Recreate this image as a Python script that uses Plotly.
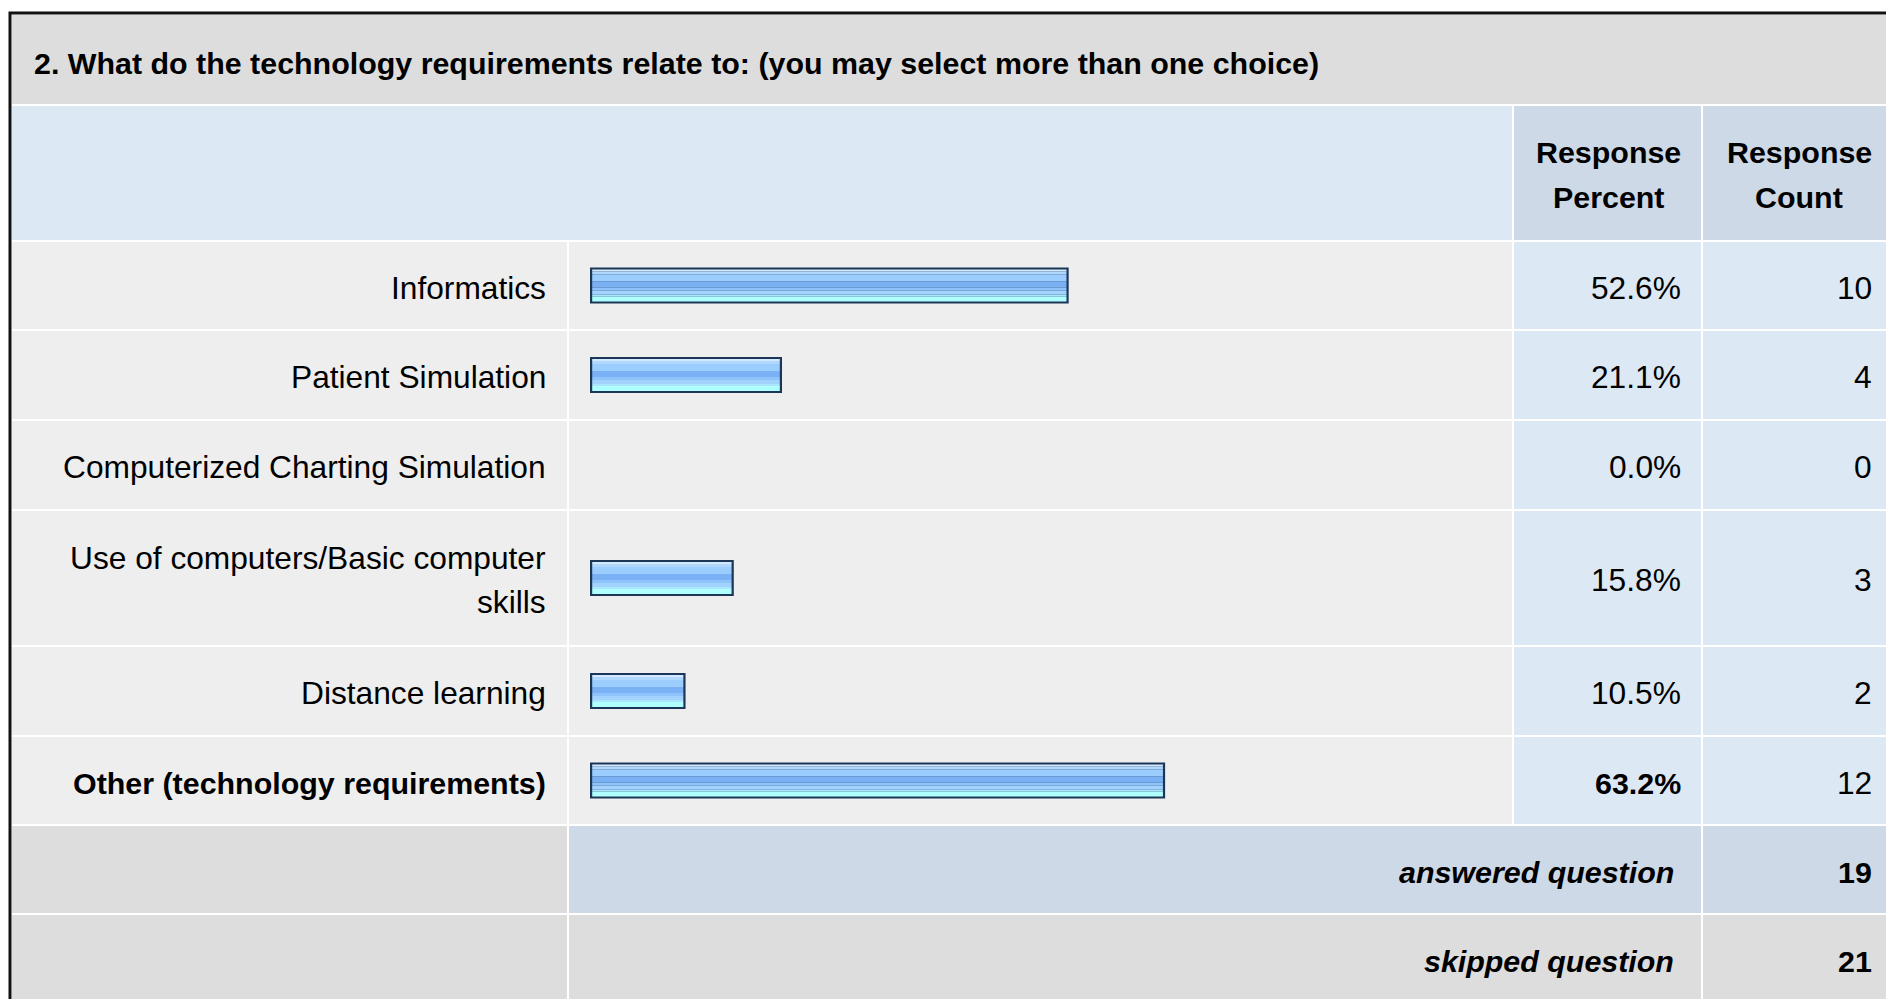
import plotly.graph_objects as go

# ---------------- data ----------------
title_text = "2. What do the technology requirements relate to: (you may select more than one choice)"
categories = [
    "Informatics",
    "Patient Simulation",
    "Computerized Charting Simulation",
    "Use of computers/Basic computer<br>skills",
    "Distance learning",
    "Other (technology requirements)",
]
percents = [52.6, 21.1, 0.0, 15.8, 10.5, 63.2]
counts = [10, 4, 0, 3, 2, 12]
bold_rows = [False, False, False, False, False, True]
header_percent = "Response<br>Percent"
header_count = "Response<br>Count"
answered_label = "answered question"
answered_count = 19
skipped_label = "skipped question"
skipped_count = 21

# ---------------- layout constants (pixels) ----------------
W, H = 1886, 999
FONT = "Arial, 'Liberation Sans', sans-serif"
REG, BLD = 31.7, 30.4
COL_LABEL = (12, 567)
COL_BAR = (569, 1512)
COL_PCT = (1514, 1701)
COL_CNT = (1703, 1900)
TITLE_Y = (15, 104)
HEADER_Y = (106, 240)
ROW_START = 242
ROW_HEIGHTS = [87, 88, 88, 134, 88, 87, 87, 88]  # 6 data rows + answered + skipped
GAP = 2
BAR_PX0, BAR_PX1 = 590, 1500  # 0% .. 100%
BAR_H = 36
LINE_SP = 44.5

C_TITLE = "#dddddd"
C_HEAD = "#dde8f5"
C_HEAD_DARK = "#cdd9e6"
C_ROW = "#eeeeee"
C_ROW_BLUE = "#dde8f5"
C_FOOT = "#dddddd"


def px(xp):
    return xp / W


# row bounds
bounds = []
y = ROW_START
for h in ROW_HEIGHTS:
    bounds.append((y, y + h))
    y += h + GAP
centers = [(a + b) / 2 for a, b in bounds]
data_centers = centers[:len(categories)]

shapes = []


def rect(x0, x1, y0, y1, color):
    shapes.append(dict(type="rect", xref="paper", yref="y", x0=px(x0), x1=px(x1), y0=y0, y1=y1,
                       fillcolor=color, line=dict(width=0), layer="below"))


# title + header
rect(COL_LABEL[0], COL_CNT[1], TITLE_Y[0], TITLE_Y[1], C_TITLE)
rect(COL_LABEL[0], COL_BAR[1], HEADER_Y[0], HEADER_Y[1], C_HEAD)
rect(COL_PCT[0], COL_PCT[1], HEADER_Y[0], HEADER_Y[1], C_HEAD_DARK)
rect(COL_CNT[0], COL_CNT[1], HEADER_Y[0], HEADER_Y[1], C_HEAD_DARK)
# data rows
for (a, b) in bounds[:len(categories)]:
    rect(COL_LABEL[0], COL_LABEL[1], a, b, C_ROW)
    rect(COL_BAR[0], COL_BAR[1], a, b, C_ROW)
    rect(COL_PCT[0], COL_PCT[1], a, b, C_ROW_BLUE)
    rect(COL_CNT[0], COL_CNT[1], a, b, C_ROW_BLUE)
# answered / skipped rows
a, b = bounds[len(categories)]
rect(COL_LABEL[0], COL_LABEL[1], a, b, C_FOOT)
rect(COL_BAR[0], COL_PCT[1], a, b, C_HEAD_DARK)
rect(COL_CNT[0], COL_CNT[1], a, b, C_HEAD_DARK)
a, b = bounds[len(categories) + 1]
rect(COL_LABEL[0], COL_LABEL[1], a, b, C_FOOT)
rect(COL_BAR[0], COL_PCT[1], a, b, C_FOOT)
rect(COL_CNT[0], COL_CNT[1], a, b, C_FOOT)
# outer frame
shapes.append(dict(type="rect", xref="paper", yref="y", x0=px(10), x1=px(1920), y0=13, y1=1030,
                   line=dict(color="#111111", width=3), fillcolor="rgba(0,0,0,0)", layer="above"))

annotations = []


def txt(x, y, s, size=REG, weight="normal", style="normal", xanchor="right"):
    """Place a (possibly multi-line) text; lines split on <br> with fixed spacing."""
    lines = s.split("<br>")
    n = len(lines)
    for i, line in enumerate(lines):
        yi = y + (i - (n - 1) / 2) * LINE_SP
        annotations.append(dict(xref="paper", yref="y", x=px(x), y=yi, text=line, showarrow=False,
                                xanchor=xanchor, yanchor="middle", align=xanchor,
                                font=dict(family=FONT, size=size, color="#000000",
                                          weight=weight, style=style)))


DY = 2
RX = 3  # right-edge correction for annotation padding
txt(32, (TITLE_Y[0] + TITLE_Y[1]) / 2 + DY + 1, title_text, size=BLD, weight="bold", xanchor="left")
hc = (HEADER_Y[0] + HEADER_Y[1]) / 2 + 1.5
txt((COL_PCT[0] + COL_PCT[1]) / 2 + 1, hc, header_percent, size=BLD, weight="bold", xanchor="center")
txt(1799, hc, header_count, size=BLD, weight="bold", xanchor="center")

for cat, p, c, yc, bold in zip(categories, percents, counts, data_centers, bold_rows):
    w = "bold" if bold else "normal"
    sz = BLD if bold else REG
    txt(545 + RX, yc + DY, cat, size=sz, weight=w)
    txt(1680 + RX, yc + DY, f"{p:.1f}%", size=sz, weight=w)
    txt(1871 + RX, yc + DY, str(c), size=REG)

ya = centers[len(categories)] + DY
txt(1673 + RX, ya, answered_label, size=BLD, weight="bold", style="italic")
txt(1871 + RX, ya, str(answered_count), size=BLD, weight="bold")
ys = centers[len(categories) + 1] + DY
txt(1673 + RX, ys, skipped_label, size=BLD, weight="bold", style="italic")
txt(1871 + RX, ys, str(skipped_count), size=BLD, weight="bold")

# ---------------- bars (striped gloss) ----------------
fig = go.Figure()
px_per_unit = (BAR_PX1 - BAR_PX0) / 100.0
inset = 2.2 / px_per_unit
fig.add_trace(go.Bar(x=percents, y=data_centers, orientation="h", width=BAR_H,
                     offset=-BAR_H / 2, base=0, marker=dict(color="#1c3658", line=dict(width=0)),
                     hoverinfo="skip", showlegend=False))
stripes = [
    (2, 4, "#d2e9ff"),
    (4, 7, "#b0d8ff"),
    (7, 14, "#9ccdff"),
    (14, 20, "#7ab1f4"),
    (20, 23, "#8ec3fb"),
    (23, 27, "#a2d3ff"),
    (27, 29, "#abe6ff"),
    (29, 34, "#b0ffff"),
]
inner = [max(p - 2 * inset, 0) for p in percents]
for s0, s1, col in stripes:
    fig.add_trace(go.Bar(x=inner, y=data_centers, orientation="h", width=s1 - s0,
                         offset=-BAR_H / 2 + s0, base=inset,
                         marker=dict(color=col, line=dict(width=0)),
                         hoverinfo="skip", showlegend=False))

fig.update_layout(
    width=W, height=H, margin=dict(l=0, r=0, t=0, b=0, pad=0),
    paper_bgcolor="#ffffff", plot_bgcolor="rgba(0,0,0,0)",
    barmode="overlay", showlegend=False,
    xaxis=dict(domain=[BAR_PX0 / W, BAR_PX1 / W], range=[0, 100], visible=False, fixedrange=True),
    yaxis=dict(domain=[0, 1], range=[H, 0], visible=False, fixedrange=True),
    shapes=shapes, annotations=annotations,
)

fig.write_html("out.html", config={"displayModeBar": False},
               post_script="document.body.style.margin='0';document.body.style.overflow='hidden';")
